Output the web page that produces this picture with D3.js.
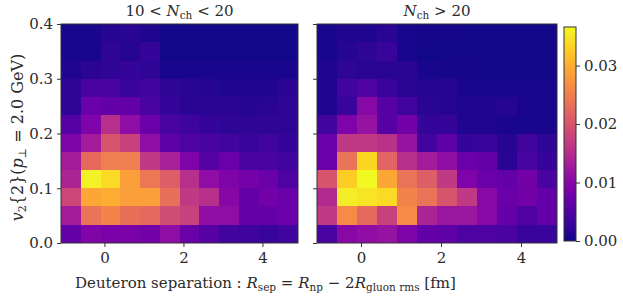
<!DOCTYPE html>
<html><head><meta charset="utf-8">
<script src="https://cdn.jsdelivr.net/npm/d3@7"></script>
<style>
body{margin:0;background:#fff;}
svg text{font-family:"DejaVu Serif",serif;fill:#2a2a2a;}
</style></head>
<body><svg id="c" width="623" height="300"></svg>
<script>
// ---- data ----
const xEdges = [-1.1,-0.6,-0.1,0.4,0.9,1.4,1.9,2.4,2.9,3.4,3.9,4.4,4.9];
const yEdges = [0,0.0333,0.0667,0.1,0.1333,0.1667,0.2,0.2333,0.2667,0.3,0.3333,0.3667,0.4];
const xTicks = [0,2,4];
const yTicks = [0.0,0.1,0.2,0.3,0.4];
const cbTicks = [0.00,0.01,0.02,0.03];
const colorMax = 0.0366;
// rows listed from the highest v2 bin (0.367-0.4) down to the lowest (0-0.033)
const lowMult = [
 [0.0007,0.0007,0.0015,0.0018,0.0011,0.0004,0.0004,0.0004,0.0004,0.0004,0.0004,0.0004],
 [0.0007,0.0007,0.0022,0.0015,0.0026,0.0004,0.0004,0.0004,0.0004,0.0004,0.0004,0.0004],
 [0.0011,0.0018,0.0022,0.0026,0.0022,0.0007,0.0007,0.0007,0.0007,0.0007,0.0007,0.0007],
 [0.0022,0.0044,0.0044,0.0029,0.0037,0.0022,0.0018,0.0015,0.0011,0.0011,0.0011,0.0018],
 [0.0022,0.0073,0.0066,0.0066,0.0044,0.0026,0.0018,0.0018,0.0018,0.0015,0.0018,0.0022],
 [0.0055,0.0092,0.0154,0.0110,0.0073,0.0044,0.0033,0.0026,0.0022,0.0022,0.0022,0.0022],
 [0.0092,0.0128,0.0201,0.0176,0.0110,0.0062,0.0048,0.0044,0.0037,0.0029,0.0037,0.0026],
 [0.0128,0.0227,0.0249,0.0249,0.0165,0.0135,0.0092,0.0055,0.0073,0.0044,0.0044,0.0037],
 [0.0139,0.0359,0.0340,0.0285,0.0242,0.0212,0.0154,0.0110,0.0092,0.0084,0.0073,0.0048],
 [0.0183,0.0293,0.0300,0.0285,0.0285,0.0234,0.0165,0.0154,0.0099,0.0066,0.0081,0.0073],
 [0.0128,0.0238,0.0256,0.0234,0.0227,0.0190,0.0176,0.0110,0.0110,0.0066,0.0066,0.0073],
 [0.0066,0.0095,0.0088,0.0088,0.0081,0.0110,0.0073,0.0055,0.0037,0.0033,0.0029,0.0037]
];
const highMult = [
 [0.0007,0.0011,0.0011,0.0018,0.0007,0.0005,0.0005,0.0004,0.0004,0.0004,0.0004,0.0004],
 [0.0007,0.0015,0.0022,0.0029,0.0007,0.0004,0.0004,0.0004,0.0004,0.0004,0.0004,0.0004],
 [0.0011,0.0022,0.0018,0.0018,0.0018,0.0007,0.0005,0.0005,0.0004,0.0004,0.0004,0.0004],
 [0.0011,0.0037,0.0048,0.0029,0.0018,0.0015,0.0015,0.0007,0.0007,0.0007,0.0007,0.0007],
 [0.0011,0.0029,0.0102,0.0055,0.0037,0.0018,0.0015,0.0011,0.0011,0.0015,0.0007,0.0007],
 [0.0037,0.0092,0.0117,0.0055,0.0081,0.0026,0.0026,0.0011,0.0011,0.0007,0.0007,0.0007],
 [0.0073,0.0165,0.0165,0.0157,0.0117,0.0037,0.0062,0.0026,0.0029,0.0015,0.0037,0.0022],
 [0.0073,0.0238,0.0337,0.0220,0.0154,0.0128,0.0110,0.0073,0.0066,0.0018,0.0044,0.0026],
 [0.0201,0.0329,0.0366,0.0293,0.0238,0.0212,0.0165,0.0092,0.0073,0.0066,0.0081,0.0044],
 [0.0146,0.0355,0.0348,0.0340,0.0256,0.0238,0.0201,0.0165,0.0102,0.0073,0.0081,0.0066],
 [0.0165,0.0264,0.0227,0.0176,0.0264,0.0139,0.0121,0.0121,0.0102,0.0066,0.0048,0.0066],
 [0.0044,0.0102,0.0110,0.0117,0.0092,0.0066,0.0062,0.0048,0.0048,0.0044,0.0029,0.0029]
];
const panels = [lowMult, highMult];

// ---- layout ----
const svg = d3.select("#c");
const plotTop = 24, plotBot = 243;
const panelX = [[61,298],[317,557]];
const cb = {x0:564, x1:576, y0:27, y1:241};
const frame = "#333";
const fs = 15, subFs = 10.5;
const fontFam = '"DejaVu Serif",serif';

const color = d3.scaleSequential(d3.interpolatePlasma).domain([0,colorMax]);
const y = d3.scaleLinear().domain([yEdges[0], yEdges[yEdges.length-1]]).range([plotBot, plotTop]);

function mathTitle(g, which){
  const t = g.append("text").attr("text-anchor","middle").style("font-size",fs+"px");
  if(which===0){
    t.append("tspan").text("10 < ");
  }
  t.append("tspan").attr("font-style","italic").text("N");
  t.append("tspan").attr("dy",3).style("font-size",subFs+"px").text("ch");
  t.append("tspan").attr("dy",-3).text(which===0 ? " < 20" : " > 20");
  return t;
}

function styleAxis(a){
  a.select(".domain").remove();
  a.selectAll("line").attr("stroke",frame);
  a.selectAll("text").style("font-size",fs+"px").attr("fill","#2a2a2a").style("font-family",fontFam);
}

panels.forEach((data,pi)=>{
  const [px0,px1] = panelX[pi];
  const x = d3.scaleLinear().domain([xEdges[0], xEdges[xEdges.length-1]]).range([px0,px1]);
  const g = svg.append("g").attr("shape-rendering","crispEdges");
  const nRows = data.length;
  data.forEach((row,ri)=>{
    const yi = nRows-1-ri; // bin index from bottom
    row.forEach((v,ci)=>{
      const x0 = Math.round(x(xEdges[ci])), x1 = Math.round(x(xEdges[ci+1]));
      const y0 = Math.round(y(yEdges[yi+1])), y1 = Math.round(y(yEdges[yi]));
      g.append("rect")
        .attr("x", x0).attr("y", y0)
        .attr("width", x1 - x0).attr("height", y1 - y0)
        .attr("fill", color(v));
    });
  });
  svg.append("rect").attr("x",px0).attr("y",plotTop).attr("width",px1-px0).attr("height",plotBot-plotTop)
    .attr("fill","none").attr("stroke",frame).attr("stroke-width",1);
  const xa = svg.append("g").attr("transform",`translate(0,${plotBot})`)
    .call(d3.axisBottom(x).tickValues(xTicks).tickFormat(d3.format("d")).tickSize(4).tickPadding(5));
  styleAxis(xa);
  const ya = svg.append("g").attr("transform",`translate(${px0},0)`)
    .call(d3.axisLeft(y).tickValues(yTicks).tickFormat(pi===0?d3.format(".1f"):()=>"").tickSize(4).tickPadding(4));
  styleAxis(ya);
  const tt = svg.append("g").attr("transform",`translate(${(px0+px1)/2},16)`);
  mathTitle(tt, pi);
});

// colorbar
const defs = svg.append("defs");
const grad = defs.append("linearGradient").attr("id","cbg").attr("x1",0).attr("y1",1).attr("x2",0).attr("y2",0);
d3.range(0,1.0001,0.05).forEach(t=>{
  grad.append("stop").attr("offset",t).attr("stop-color",d3.interpolatePlasma(t));
});
svg.append("rect").attr("x",cb.x0).attr("y",cb.y0).attr("width",cb.x1-cb.x0).attr("height",cb.y1-cb.y0)
  .attr("fill","url(#cbg)").attr("stroke",frame).attr("stroke-width",1);
const cy = d3.scaleLinear().domain([0,colorMax]).range([cb.y1,cb.y0]);
const ca = svg.append("g").attr("transform",`translate(${cb.x1},0)`)
  .call(d3.axisRight(cy).tickValues(cbTicks).tickFormat(d3.format(".2f")).tickSize(4).tickPadding(4));
styleAxis(ca);

// x label
const xl = svg.append("text").attr("x",75).attr("y",288).style("font-size",fs+"px");
xl.append("tspan").text("Deuteron separation : ");
xl.append("tspan").attr("font-style","italic").text("R");
xl.append("tspan").attr("dy",3).style("font-size",subFs+"px").text("sep");
xl.append("tspan").attr("dy",-3).text(" = ");
xl.append("tspan").attr("font-style","italic").text("R");
xl.append("tspan").attr("dy",3).style("font-size",subFs+"px").text("np");
xl.append("tspan").attr("dy",-3).text(" − 2");
xl.append("tspan").attr("font-style","italic").text("R");
xl.append("tspan").attr("dy",3).style("font-size",subFs+"px").text("gluon rms");
xl.append("tspan").attr("dy",-3).text(" [fm]");

// y label
const yl = svg.append("text").attr("transform",`translate(23,${(plotTop+plotBot)/2+4}) rotate(-90)`)
  .attr("text-anchor","middle").style("font-size","16px");
yl.append("tspan").attr("font-style","italic").text("v");
yl.append("tspan").attr("dy",3).style("font-size","11px").text("2");
yl.append("tspan").attr("dy",-3).text("{2}(");
yl.append("tspan").attr("font-style","italic").text("p");
yl.append("tspan").attr("dy",3).style("font-size","11px").text("⊥");
yl.append("tspan").attr("dy",-3).text(" = 2.0 GeV)");
</script></body></html>
